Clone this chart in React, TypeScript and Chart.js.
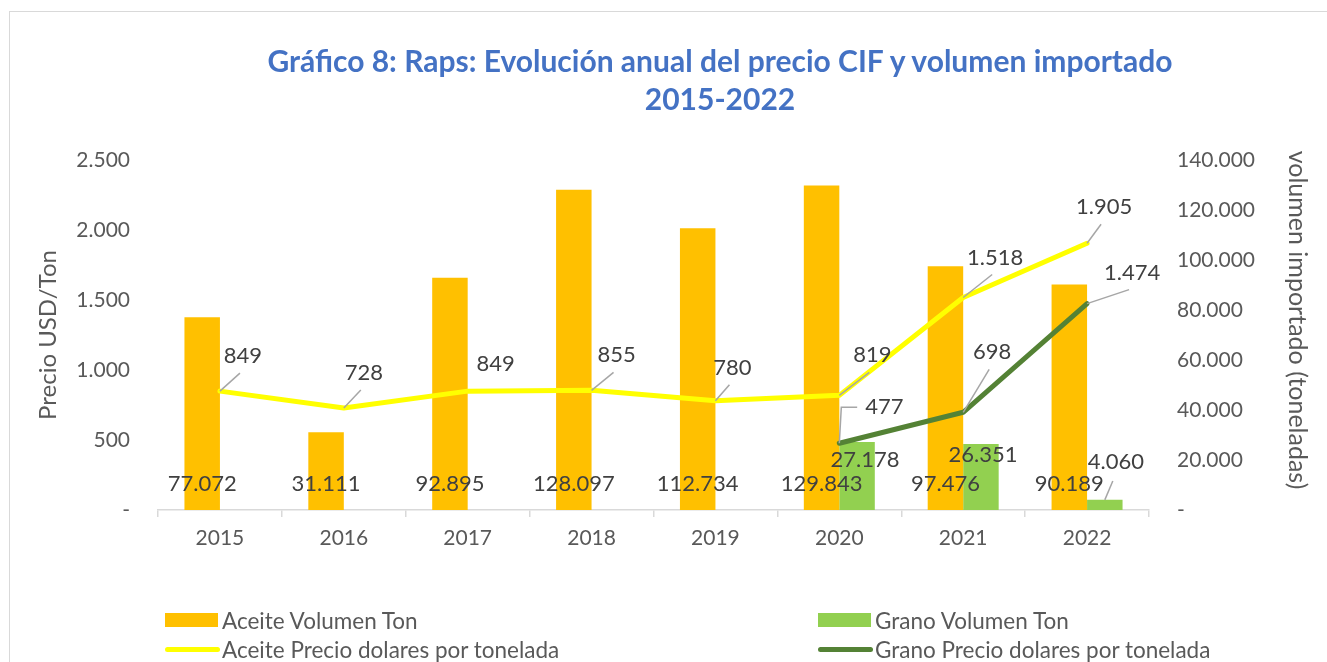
import React, { useEffect, useRef } from "react";
import { Chart, registerables } from "chart.js";

Chart.register(...registerables);

// ---------- data ----------
const years = ["2015", "2016", "2017", "2018", "2019", "2020", "2021", "2022"];
const aceiteVolumen = [77072, 31111, 92895, 128097, 112734, 129843, 97476, 90189];
const granoVolumen = [null, null, null, null, null, 27178, 26351, 4060];
const aceitePrecio = [849, 728, 849, 855, 780, 819, 1518, 1905];
const granoPrecio = [null, null, null, null, null, 477, 698, 1474];
const priceTicks = [0, 500, 1000, 1500, 2000, 2500];
const volumeTicks = [0, 20000, 40000, 60000, 80000, 100000, 120000, 140000];

const seriesNames = [
  "Aceite Volumen Ton",
  "Grano Volumen Ton",
  "Aceite Precio dolares por tonelada",
  "Grano Precio dolares por tonelada",
];
const seriesColors = ["#FFC000", "#92D050", "#FFFF00", "#548235"];
const leftAxisTitle = "Precio USD/Ton";
const rightAxisTitle = "volumen importado (toneladas)";

// ---------- label placement (layout only) ----------
const aceitePrecioLabelOffsets = [[23, -35], [20, -35], [28, -27], [25, -35], [17, -33], [33, -40], [32, -40], [17, -36]];
const aceitePrecioLeaders = [true, true, false, true, true, true, true, true];
const granoPrecioLabelOffsets = [null, null, null, null, null, [45, -36], [29, -60], [45, -31]];
const granoPrecioLeaders = [null, null, null, null, null, "elbow", "line", "line"];
const granoVolLabelOffsets = [null, null, null, null, null, [8, -50], [2, -55], [11, -48]];
const granoVolLeaders = [false, false, false, false, false, false, false, true];

const FONT = "Lato, 'Open Sans', sans-serif";
const TEXT = "#595959";
const LABEL = "#404040";
const LEADER = "#A6A6A6";

const fmt = (n: number) => (n === 0 ? "-" : String(n).replace(/\B(?=(\d{3})+(?!\d))/g, "."));

const labelPlugin = {
  id: "excelLabels",
  afterDatasetsDraw(chart: any) {
    const ctx = chart.ctx as CanvasRenderingContext2D;
    const bottom = chart.chartArea.bottom;
    ctx.save();
    ctx.font = `22px ${FONT}`;
    ctx.fillStyle = LABEL;
    ctx.textAlign = "center";
    ctx.textBaseline = "middle";
    ctx.strokeStyle = LEADER;
    ctx.lineWidth = 1.5;

    const drawLeader = (px: number, py: number, cx: number, cy: number) => {
      ctx.beginPath();
      ctx.moveTo(px, py);
      ctx.lineTo(cx - 3, cy + 17);
      ctx.stroke();
    };

    // Aceite volumen labels (inside base)
    const m0 = chart.getDatasetMeta(0);
    m0.data.forEach((el: any, i: number) => {
      const v = aceiteVolumen[i];
      if (v == null) return;
      ctx.fillText(fmt(v), el.x, bottom - 26);
    });

    // Grano volumen labels
    const m1 = chart.getDatasetMeta(1);
    m1.data.forEach((el: any, i: number) => {
      const v = granoVolumen[i];
      const off = granoVolLabelOffsets[i];
      if (v == null || !off) return;
      const cx = el.x + off[0];
      const cy = bottom + off[1];
      if (granoVolLeaders[i]) {
        ctx.beginPath();
        ctx.moveTo(el.x, el.y);
        ctx.lineTo(cx - 3, cy + 19);
        ctx.stroke();
      }
      ctx.fillText(fmt(v), cx, cy);
    });

    // Aceite precio labels
    const m2 = chart.getDatasetMeta(2);
    m2.data.forEach((el: any, i: number) => {
      const v = aceitePrecio[i];
      if (v == null) return;
      const [dx, dy] = aceitePrecioLabelOffsets[i];
      const cx = el.x + dx;
      const cy = el.y + dy;
      if (aceitePrecioLeaders[i]) drawLeader(el.x, el.y, cx, cy);
      ctx.fillText(fmt(v), cx, cy);
    });

    // Grano precio labels
    const m3 = chart.getDatasetMeta(3);
    m3.data.forEach((el: any, i: number) => {
      const v = granoPrecio[i];
      const off = granoPrecioLabelOffsets[i];
      if (v == null || !off) return;
      const cx = el.x + off[0];
      const cy = el.y + off[1];
      const style = granoPrecioLeaders[i];
      if (style === "elbow") {
        const w = ctx.measureText(fmt(v)).width;
        ctx.beginPath();
        ctx.moveTo(el.x, el.y);
        ctx.lineTo(el.x + 2, cy);
        ctx.lineTo(cx - w / 2 - 8, cy);
        ctx.stroke();
      } else if (style === "line") {
        drawLeader(el.x, el.y, cx, cy);
      }
      ctx.fillText(fmt(v), cx, cy);
    });

    // right axis title (rotated, reads top to bottom)
    ctx.save();
    ctx.translate(1297, 320);
    ctx.rotate(Math.PI / 2);
    ctx.font = `25px ${FONT}`;
    ctx.fillStyle = TEXT;
    ctx.textAlign = "center";
    ctx.textBaseline = "middle";
    ctx.fillText(rightAxisTitle, 0, 0);
    ctx.restore();

    ctx.restore();
  },
};

export default function App() {
  const canvasRef = useRef<HTMLCanvasElement | null>(null);

  useEffect(() => {
    const canvas = canvasRef.current;
    if (!canvas) return;
    const chart = new Chart(canvas, {
      type: "bar",
      data: {
        labels: years,
        datasets: [
          {
            type: "bar",
            label: seriesNames[0],
            data: aceiteVolumen,
            backgroundColor: seriesColors[0],
            yAxisID: "y1",
            order: 2,
            categoryPercentage: 0.573,
            barPercentage: 1,
          },
          {
            type: "bar",
            label: seriesNames[1],
            data: granoVolumen as any,
            backgroundColor: seriesColors[1],
            yAxisID: "y1",
            order: 2,
            categoryPercentage: 0.573,
            barPercentage: 1,
          },
          {
            type: "line",
            label: seriesNames[2],
            data: aceitePrecio,
            borderColor: seriesColors[2],
            backgroundColor: seriesColors[2],
            borderWidth: 5,
            pointRadius: 0,
            tension: 0,
            yAxisID: "y",
            order: 1,
            borderCapStyle: "round",
            borderJoinStyle: "round",
          } as any,
          {
            type: "line",
            label: seriesNames[3],
            data: granoPrecio as any,
            borderColor: seriesColors[3],
            backgroundColor: seriesColors[3],
            borderWidth: 5,
            pointRadius: 0,
            tension: 0,
            yAxisID: "y",
            order: 0,
            borderCapStyle: "round",
            borderJoinStyle: "round",
          } as any,
        ],
      },
      options: {
        animation: false,
        responsive: true,
        maintainAspectRatio: false,
        layout: { padding: { top: 160, left: 0, right: 0, bottom: 0 } },
        plugins: {
          legend: { display: false },
          title: { display: false },
          tooltip: { enabled: false },
        },
        scales: {
          x: {
            type: "category",
            offset: true,
            grid: {
              display: true,
              offset: true,
              drawOnChartArea: false,
              drawTicks: true,
              tickLength: 7,
              color: "#D9D9D9",
              lineWidth: 1.5,
            },
            border: { display: true, color: "#D9D9D9", width: 1.5 },
            ticks: {
              color: TEXT,
              font: { family: FONT, size: 21 },
              padding: 9,
              maxRotation: 0,
            },
            afterFit: (s: any) => {
              s.height = 152;
            },
          },
          y: {
            type: "linear",
            position: "left",
            min: 0,
            max: 2500,
            grid: { display: false, drawTicks: false },
            border: { display: false },
            afterBuildTicks: (s: any) => {
              s.ticks = priceTicks.map((v) => ({ value: v }));
            },
            ticks: {
              color: TEXT,
              font: { family: FONT, size: 21 },
              padding: 28,
              callback: (v: any) => fmt(Number(v)),
            },
            title: {
              display: true,
              text: leftAxisTitle,
              color: TEXT,
              font: { family: FONT, size: 24 },
              padding: { top: 34, bottom: 0 },
            },
            afterFit: (s: any) => {
              s.width = 158;
            },
          },
          y1: {
            type: "linear",
            position: "right",
            min: 0,
            max: 140000,
            grid: { display: false, drawTicks: false },
            border: { display: false },
            afterBuildTicks: (s: any) => {
              s.ticks = volumeTicks.map((v) => ({ value: v }));
            },
            ticks: {
              color: TEXT,
              font: { family: FONT, size: 21 },
              padding: 28,
              callback: (v: any) => fmt(Number(v)),
            },
            title: { display: false },
            afterFit: (s: any) => {
              s.width = 178;
            },
          },
        },
      } as any,
      plugins: [labelPlugin],
    });
    return () => chart.destroy();
  }, []);

  const legendItem = (i: number, left: number, top: number) => (
    <div
      key={i}
      style={{
        position: "absolute",
        left,
        top,
        height: 26,
        display: "flex",
        alignItems: "center",
        fontFamily: FONT,
        fontSize: 22.5,
        color: TEXT,
        whiteSpace: "nowrap",
      }}
    >
      {i < 2 ? (
        <span style={{ display: "inline-block", width: 53, height: 14, background: seriesColors[i], marginRight: 4 }} />
      ) : (
        <span
          style={{
            display: "inline-block",
            width: 55,
            height: 5,
            borderRadius: 3,
            background: seriesColors[i],
            marginRight: 2,
          }}
        />
      )}
      <span>{seriesNames[i]}</span>
    </div>
  );

  return (
    <div
      style={{
        position: "fixed",
        left: 0,
        top: 0,
        width: 1327,
        height: 662,
        overflow: "hidden",
        background: "#FFFFFF",
      }}
    >
      <div
        style={{
          position: "absolute",
          left: 9,
          top: 11,
          width: 1400,
          height: 700,
          border: "1.5px solid #D9D9D9",
          boxSizing: "border-box",
        }}
      />
      <div style={{ position: "absolute", left: 0, top: 0, width: 1327, height: 662 }}>
        <canvas ref={canvasRef} />
      </div>
      <div
        style={{
          position: "absolute",
          left: 170,
          top: 41,
          width: 1100,
          textAlign: "center",
          fontFamily: FONT,
          fontWeight: 700,
          fontSize: 30,
          lineHeight: "38px",
          color: "#4472C4",
        }}
      >
        <div>Gráfico 8: Raps: Evolución anual del precio CIF y volumen importado</div>
        <div>2015-2022</div>
      </div>
      {legendItem(0, 165, 607)}
      {legendItem(1, 818, 607)}
      {legendItem(2, 165, 636)}
      {legendItem(3, 818, 636)}
    </div>
  );
}
